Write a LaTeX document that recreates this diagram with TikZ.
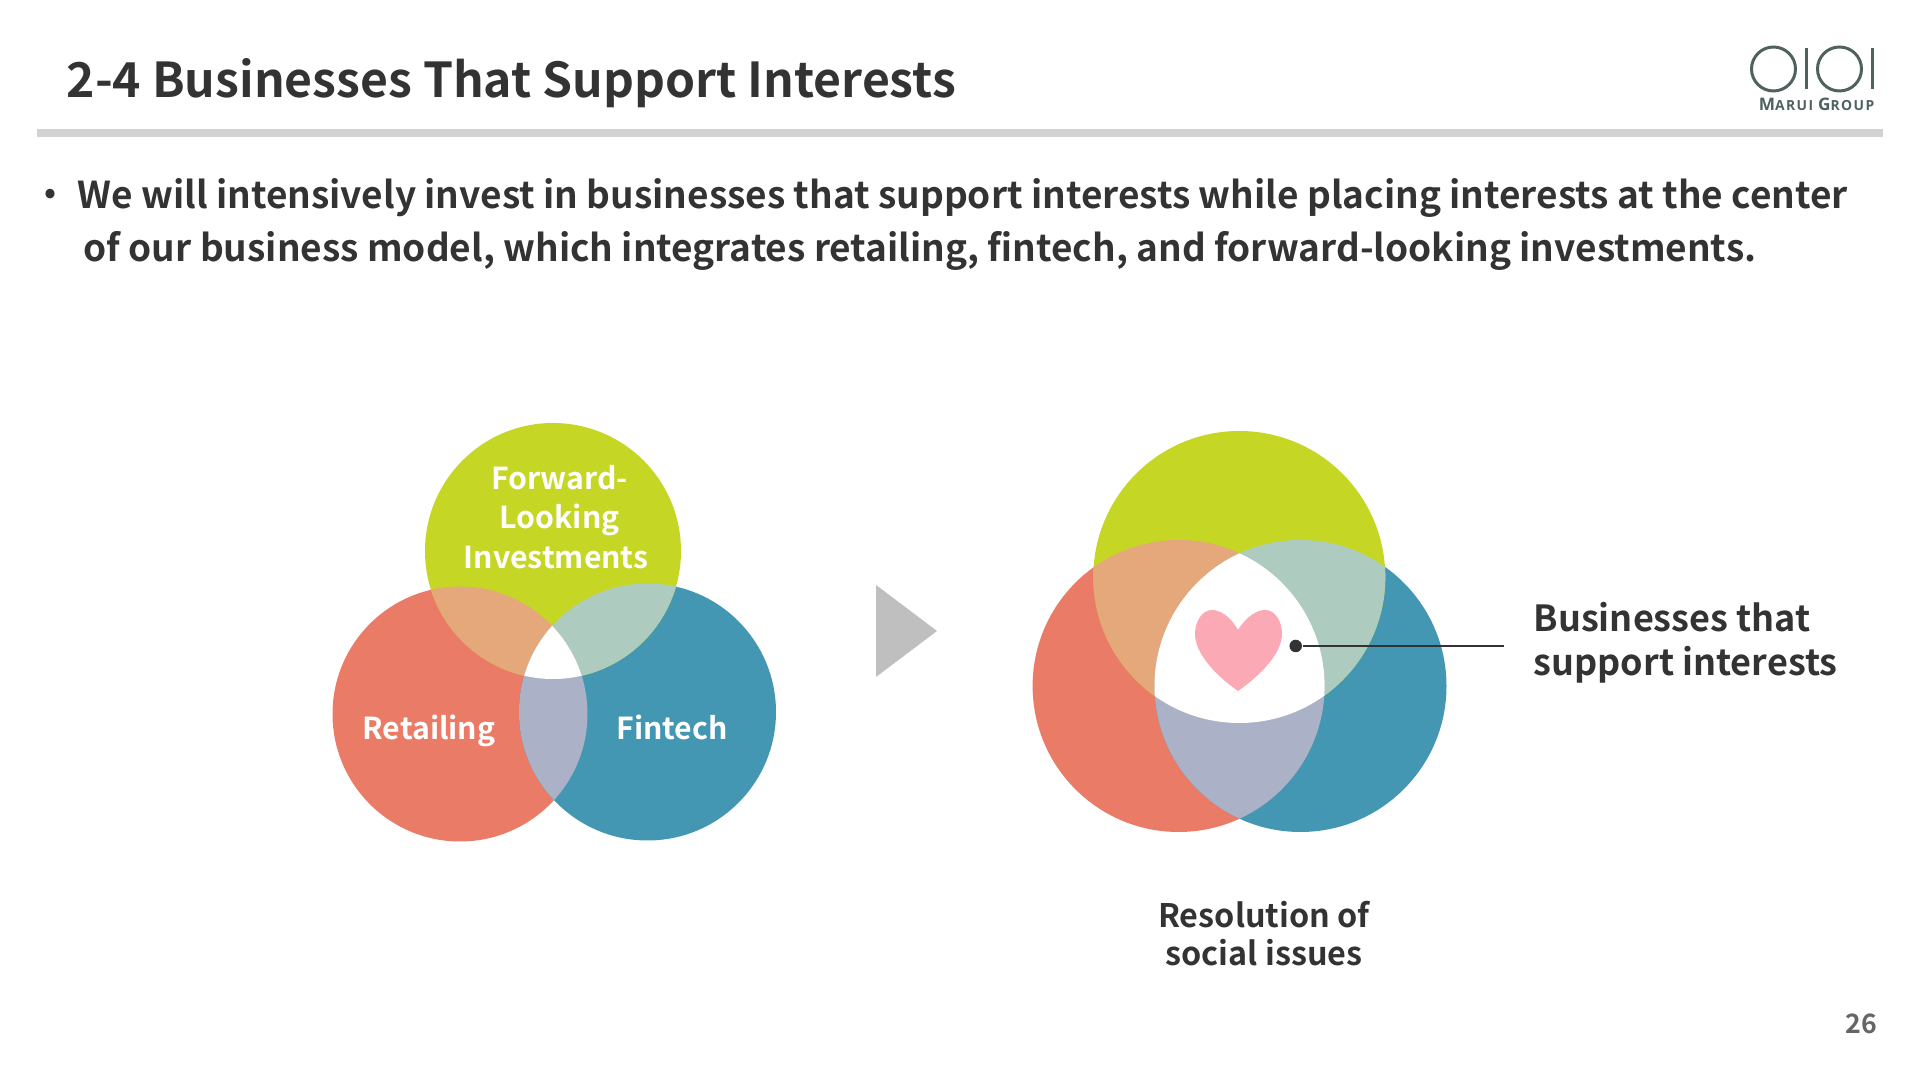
\documentclass[tikz,border=0pt]{standalone}
\usepackage{fontspec}
\setmainfont{Noto Sans CJK JP}[BoldFont={Noto Sans CJK JP Bold}]
\newfontfamily\logofont{Open Sans}[LetterSpace=10]
\usetikzlibrary{positioning}

\definecolor{venngreen}{HTML}{C6D625}
\definecolor{vennred}{HTML}{EA7B66}
\definecolor{vennblue}{HTML}{4497B3}
\definecolor{mixorange}{HTML}{E5A87B}
\definecolor{mixteal}{HTML}{AECBBF}
\definecolor{mixlav}{HTML}{ABB1C6}
\definecolor{heartpink}{HTML}{FCA9B6}
\definecolor{inkdark}{HTML}{333333}
\definecolor{logoink}{HTML}{4F6260}

\tikzset{
  venntext/.style={text=white, font=\bfseries\fontsize{8.6}{11.2}\selectfont, align=center, inner sep=0pt},
  darktext/.style={text=inkdark, font=\bfseries\fontsize{10.52}{12.4}\selectfont, inner sep=0pt},
  logoline/.style={draw=logoink, line width=0.85pt}
}

% red, green, blue sets with their overlaps and a white centre
\newcommand{\vennset}[3]{
  \fill[vennred] #1;
  \fill[vennblue] #3;
  \fill[venngreen] #2;
  \begin{scope}\clip #1; \fill[mixorange] #2; \end{scope}
  \begin{scope}\clip #3; \fill[mixteal] #2; \end{scope}
  \begin{scope}\clip #1; \fill[mixlav] #3; \end{scope}
  \begin{scope}\clip #1; \clip #2; \fill[white] #3; \end{scope}
}

\begin{document}
\begin{tikzpicture}[x=0.01cm, y=-0.01cm]
    \useasboundingbox (0,0) rectangle (1920,1080);
    \fill[white] (0,0) rectangle (1920,1080);

    % Header
    \node[anchor=base west, text=inkdark, inner sep=0pt, font=\bfseries\fontsize{13.68}{14}\selectfont]
        (title) at (66, 98) {2-4 Businesses That Support Interests};
    \fill[gray!35] (37, 129) rectangle (1883, 137);

    % Logo
    \draw[logoline] (1773.5, 69) circle (22);
    \draw[logoline] (1806, 48) -- (1806, 89);
    \draw[logoline] (1839.5, 69) circle (22);
    \draw[logoline] (1872, 48) -- (1872, 89);
    \node[anchor=base east, text=logoink, inner sep=0pt, font=\logofont\bfseries]
        (logotext) at (1875, 111) {\fontsize{4.9}{5}\selectfont M\fontsize{3.95}{5}\selectfont ARUI\ \fontsize{4.9}{5}\selectfont G\fontsize{3.95}{5}\selectfont ROUP};

    % Bullet text
    \node[anchor=center, text=inkdark, inner sep=0pt, font=\bfseries\fontsize{9}{9}\selectfont]
        (bullet) at (50, 196) {\textbullet};
    \node[anchor=base west, darktext] (lineone) at (77, 208.5)
        {We will intensively invest in businesses that support interests while placing interests at the center};
    \node[anchor=base west, darktext] (linetwo) at (83, 262)
        {of our business model, which integrates retailing, fintech, and forward-looking investments.};

    % Left diagram
    \vennset{(460, 714) circle (127.5)}{(553, 551) circle (128)}{(647.5, 712) circle (128.5)}
    \node[venntext] (forward) at (556, 517) {\hspace*{2pt}Forward-\\\hspace*{2pt}Looking\\Investments};
    \node[venntext, anchor=base] (retailing) at (429, 740) {Retailing};
    \node[venntext, anchor=base] (fintech) at (672, 740) {Fintech};

    % Arrow between the diagrams
    \fill[gray!50] (876, 585) -- (937, 631) -- (876, 677) -- cycle;

    % Right diagram
    \vennset{(1178.6, 686) circle [x radius=146, y radius=146]}{(1239.3, 577) circle [x radius=146, y radius=146]}{(1300.5, 686) circle [x radius=146, y radius=146]}
    \fill[heartpink] (1238, 630) .. controls (1230.4, 616) and (1219.6, 610) .. (1212, 610)
        .. controls (1202.4, 610) and (1195, 621) .. (1195, 634)
        .. controls (1195, 653) and (1215, 675) .. (1238, 691)
        .. controls (1261, 675) and (1282, 653) .. (1282, 634)
        .. controls (1282, 621) and (1275, 610) .. (1265, 610)
        .. controls (1257.4, 610) and (1246.6, 616) .. (1238, 630) -- cycle;

    % Callout
    \node[circle, fill=inkdark, inner sep=0pt, minimum size=0.125cm] (dot) at (1295.7, 646) {};
    \coordinate (leaderend) at (1504, 646);
    \draw[inkdark, line width=0.75pt] (dot) -- (leaderend);
    \node[anchor=base west, darktext, font=\bfseries\fontsize{10.24}{12.5}\selectfont, align=left] (interests) at (1533, 675.5)
        {Businesses that\\support interests};
    \node[darktext, font=\bfseries\fontsize{9.2}{11}\selectfont, align=center] (social) at (1264, 933.5)
        {Resolution of\\social issues};

    % Page number
    \node[text=black!60, inner sep=0pt, font=\bfseries\fontsize{7.6}{8}\selectfont] (pagenum) at (1861, 1024) {26};
\end{tikzpicture}
\end{document}
